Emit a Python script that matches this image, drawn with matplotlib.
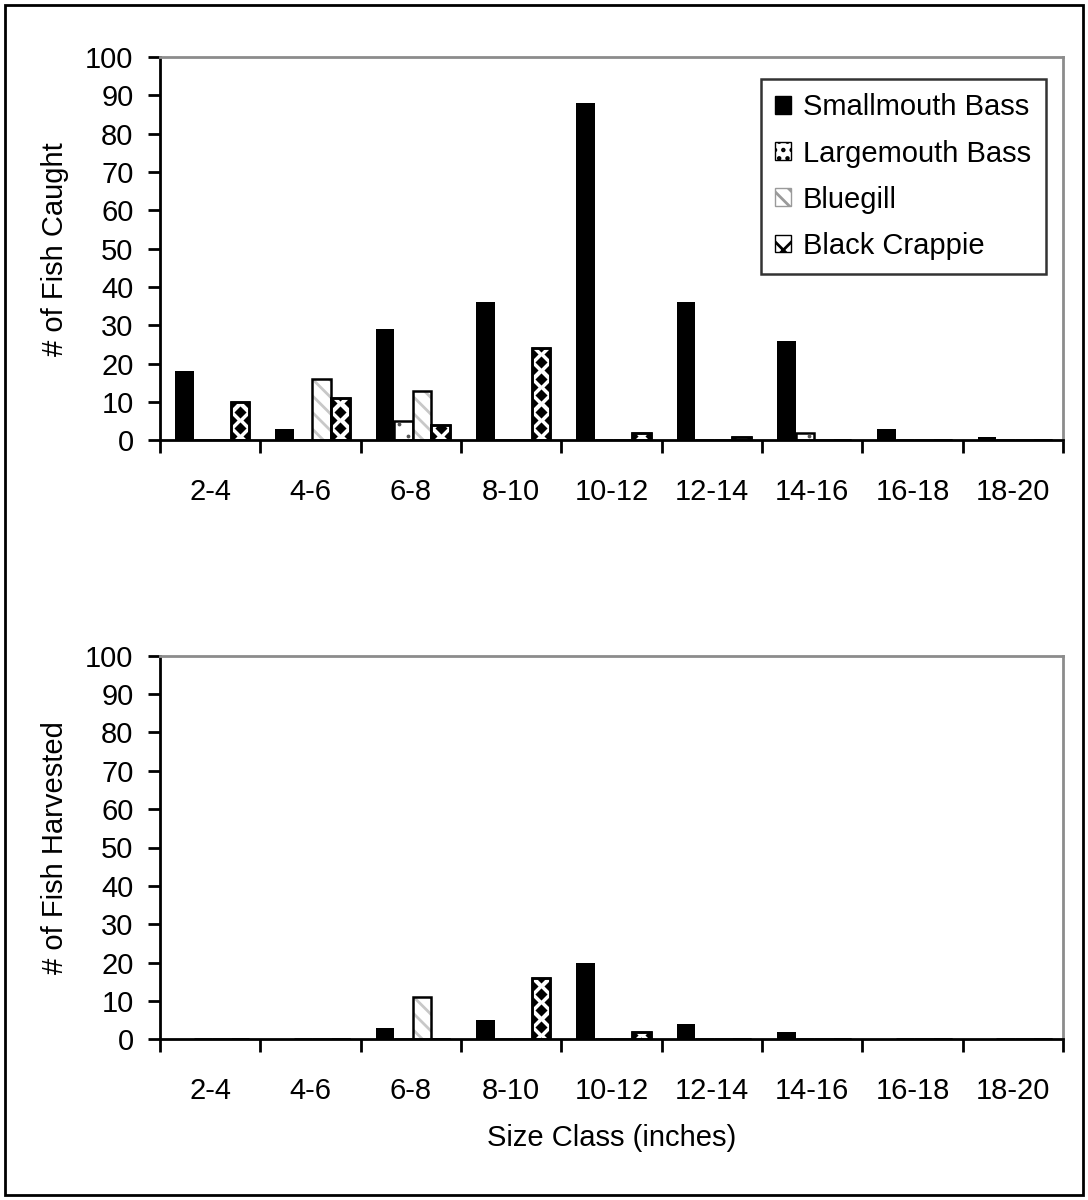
import numpy as np
import matplotlib
matplotlib.use("Agg")
import matplotlib.pyplot as plt
from matplotlib.patches import Patch, Rectangle

plt.rcParams["font.family"] = ["Liberation Sans", "DejaVu Sans"]
plt.rcParams["hatch.linewidth"] = 2.0

size_classes = ["2-4", "4-6", "6-8", "8-10", "10-12", "12-14", "14-16", "16-18", "18-20"]
species = ["Smallmouth Bass", "Largemouth Bass", "Bluegill", "Black Crappie"]

caught_smallmouth = [18, 3, 29, 36, 88, 36, 26, 3, 1]
caught_largemouth = [0, 0, 5, 0, 0, 0, 2, 0, 0]
caught_bluegill = [0, 16, 13, 0, 0, 0, 0, 0, 0]
caught_crappie = [10, 11, 4, 24, 2, 1, 0, 0, 0]

harv_smallmouth = [0, 0, 3, 5, 20, 4, 2, 0, 0]
harv_largemouth = [0, 0, 0, 0, 0, 0, 0, 0, 0]
harv_bluegill = [0, 0, 11, 0, 0, 0, 0, 0, 0]
harv_crappie = [0, 0, 0, 16, 2, 0, 0, 0, 0]

FS = 21
W = 0.185
x = np.arange(len(size_classes))


def draw_panel(ax, sm, lm, bg, bc):
    # smallmouth: solid black
    ax.bar(x + 0.2425, sm, W, color="black", edgecolor="black", linewidth=0)
    # largemouth: white with sparse dots
    lm_bars = ax.bar(x + 0.2425 + W, lm, W, color="white", edgecolor="black",
                     linewidth=1.8)
    for b, v in zip(lm_bars, lm):
        if v <= 0:
            continue
        cx = b.get_x() + W / 2
        ys = np.arange(1.2, v, 3.0)
        for j, yy in enumerate(ys):
            off = 0.04 if j % 2 == 0 else -0.04
            d = ax.scatter([cx + off], [yy], s=3, color="#555555", zorder=3)
            d.set_clip_path(b)
    # bluegill: gray diagonal stripes
    bg_pos = x + 0.2425 + 2 * W
    ax.bar(bg_pos, bg, W, color="white", edgecolor="#c8c8c8", hatch="\\\\",
           linewidth=0)
    ax.bar(bg_pos, bg, W, fill=False, edgecolor="black", linewidth=1.8)
    # black crappie: diamonds
    bc_bars = ax.bar(x + 0.2425 + 3 * W, bc, W, color="white", edgecolor="black",
                     linewidth=1.8, zorder=2)
    for b, v in zip(bc_bars, bc):
        if v <= 0:
            continue
        cx = b.get_x() + W / 2
        step = 4.3
        ys = np.arange(0.75 * step - step, v + step, step)
        ys2 = ys + step / 2
        d1 = ax.scatter(np.full(len(ys), cx), ys, marker="D", s=38,
                        color="black", linewidths=0, zorder=2.5)
        d2 = ax.scatter(np.r_[np.full(len(ys2), b.get_x()), np.full(len(ys2), b.get_x() + W)],
                        np.r_[ys2, ys2], marker="D", s=38, color="black",
                        linewidths=0, zorder=2.5)
        d1.set_clip_path(b)
        d2.set_clip_path(b)
    ax.bar(x + 0.2425 + 3 * W, bc, W, fill=False, edgecolor="black",
           linewidth=1.8, zorder=2.6)

    ax.set_xlim(0, len(size_classes))
    ax.set_ylim(0, 100)
    ax.set_yticks(range(0, 101, 10))
    ax.set_xticks(range(0, len(size_classes) + 1))
    ax.set_xticklabels([])
    ax.set_xticks(x + 0.5, minor=True)
    ax.set_xticklabels(size_classes, minor=True, fontsize=FS)
    ax.tick_params(axis="x", which="major", direction="out", length=9, width=2)
    ax.tick_params(axis="x", which="minor", length=0, pad=27)
    ax.tick_params(axis="y", direction="out", length=9, width=2, labelsize=FS, pad=10)
    for s in ["left", "bottom"]:
        ax.spines[s].set_color("black")
        ax.spines[s].set_linewidth(2)
    for s in ["top", "right"]:
        ax.spines[s].set_color("#8c8c8c")
        ax.spines[s].set_linewidth(2)


fig = plt.figure(figsize=(10.88, 12), dpi=100)
ax1 = fig.add_axes([0.147, 0.633, 0.83, 0.3195])
ax2 = fig.add_axes([0.147, 0.134, 0.83, 0.3195])

draw_panel(ax1, caught_smallmouth, caught_largemouth, caught_bluegill, caught_crappie)
draw_panel(ax2, harv_smallmouth, harv_largemouth, harv_bluegill, harv_crappie)

ax1.set_ylabel("# of Fish Caught", fontsize=FS, labelpad=12)
ax2.set_ylabel("# of Fish Harvested", fontsize=FS, labelpad=12)
ax2.set_xlabel("Size Class (inches)", fontsize=FS, labelpad=14)

handles = [
    Patch(facecolor="black", edgecolor="black"),
    Patch(facecolor="white", edgecolor="black", hatch=".."),
    Patch(facecolor="white", edgecolor="#9a9a9a", hatch="\\\\"),
    Patch(facecolor="white", edgecolor="black", hatch="x"),
]
leg = ax1.legend(handles, species, loc="upper right", bbox_to_anchor=(0.981, 0.943),
                 fontsize=FS, frameon=True, fancybox=False, edgecolor="black",
                 handlelength=0.55, handleheight=0.55, handletextpad=0.4,
                 labelspacing=0.62, borderpad=0.5, borderaxespad=0)
leg.get_frame().set_linewidth(1.8)

fig.add_artist(Rectangle((0.005, 0.004), 0.99, 0.992, transform=fig.transFigure,
                         fill=False, edgecolor="black", linewidth=2))

fig.savefig("out.png", dpi=100)
